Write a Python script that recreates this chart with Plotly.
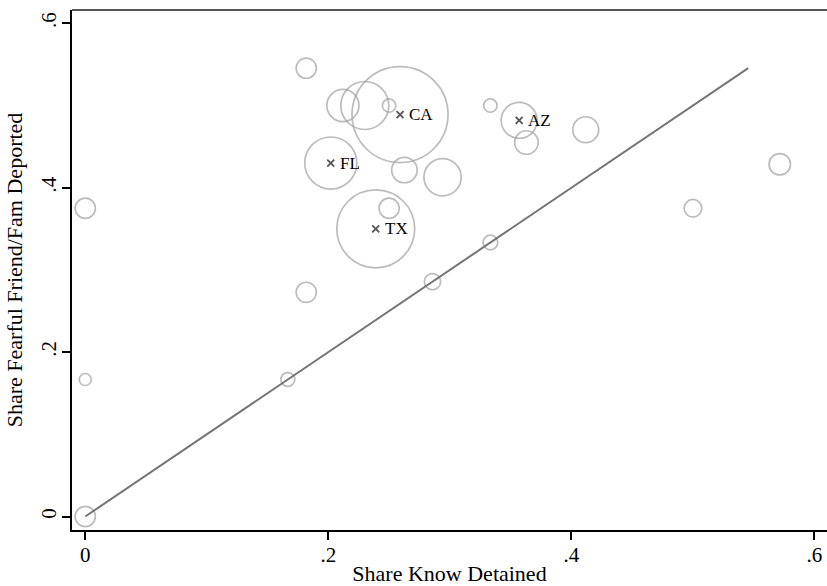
import plotly.graph_objects as go

# Data: share knowing someone detained (x), share fearful of friend/family deported (y), weights
share_detained = [0.0, 0.0, 0.0, 1/6, 2/11, 2/11, 0.212, 0.230, 0.250, 0.259, 1/3, 0.357,
                  0.363, 0.202, 0.2626, 0.294, 0.239, 0.250, 1/3, 2/7, 7/17, 0.5, 4/7]
share_fearful = [0.0, 1/6, 0.375, 1/6, 3/11, 6/11, 0.500, 0.500, 0.500, 0.489, 0.500, 0.482,
                 0.455, 0.430, 0.4215, 0.4127, 0.350, 0.375, 1/3, 2/7, 8/17, 0.375, 3/7]
weights = [17, 6, 17, 8, 17, 17, 43, 96, 7.5, 384, 7.5, 54,
           23, 113, 27, 58, 253, 17, 9, 11, 28, 13, 19]

label_states = ["CA", "AZ", "FL", "TX"]
label_x = [0.259, 0.357, 0.202, 0.239]
label_y = [0.489, 0.482, 0.430, 0.350]

fit_x = [0.0, 0.5455]
fit_y = [0.0, 0.5455]

tick_vals = [0, 0.2, 0.4, 0.6]
tick_text = ["0", ".2", ".4", ".6"]

FONT = "Liberation Serif"

fig = go.Figure()

fig.add_trace(go.Scatter(
    x=share_detained, y=share_fearful, mode="markers",
    marker=dict(symbol="circle-open", size=weights, sizemode="area", sizeref=1/12,
                color="#a0a0a0", line=dict(width=1.7, color="#a0a0a0")),
    hoverinfo="x+y", showlegend=False))

fig.add_trace(go.Scatter(
    x=fit_x, y=fit_y, mode="lines",
    line=dict(color="#757575", width=2), showlegend=False))

fig.add_trace(go.Scatter(
    x=label_x, y=label_y, mode="markers",
    marker=dict(symbol="x-thin-open", size=7, color="#555555",
                line=dict(width=1.8, color="#555555")),
    showlegend=False))

annotations = [
    dict(x=lx, y=ly, text=s, showarrow=False, xanchor="left", yanchor="middle",
         xshift=7, font=dict(family=FONT, size=17, color="black"))
    for s, lx, ly in zip(label_states, label_x, label_y)
]

fig.update_layout(
    width=827, height=586,
    margin=dict(l=72, r=0, t=10, b=56),
    paper_bgcolor="white", plot_bgcolor="white",
    font=dict(family=FONT, size=21, color="black"),
    annotations=annotations,
    shapes=[dict(type="line", xref="paper", yref="paper", x0=0, x1=1, y0=1, y1=1,
                 line=dict(color="#555555", width=2))],
)

fig.update_xaxes(
    range=[-0.0109, 0.6103], tickvals=tick_vals, ticktext=tick_text,
    showgrid=False, zeroline=False, showline=True, linecolor="black", linewidth=2,
    ticks="outside", ticklen=8, tickwidth=1.5, tickcolor="black",
    tickfont=dict(family=FONT, size=21), ticklabelstandoff=-3,
    title=dict(text="Share Know Detained", font=dict(family=FONT, size=22), standoff=3),
)
fig.update_yaxes(
    range=[-0.0164, 0.6162], tickvals=tick_vals, ticktext=tick_text,
    showgrid=False, zeroline=False, showline=True, linecolor="black", linewidth=2,
    ticks="outside", ticklen=8, tickwidth=1.5, tickcolor="black", tickangle=-90,
    tickfont=dict(family=FONT, size=21), ticklabelstandoff=-2,
    title=dict(text="Share Fearful Friend/Fam Deported", font=dict(family=FONT, size=22), standoff=8),
)

fig.write_html("out.html", config={"displayModeBar": False},
               post_script="document.body.style.margin='0';document.body.style.overflow='hidden';")
